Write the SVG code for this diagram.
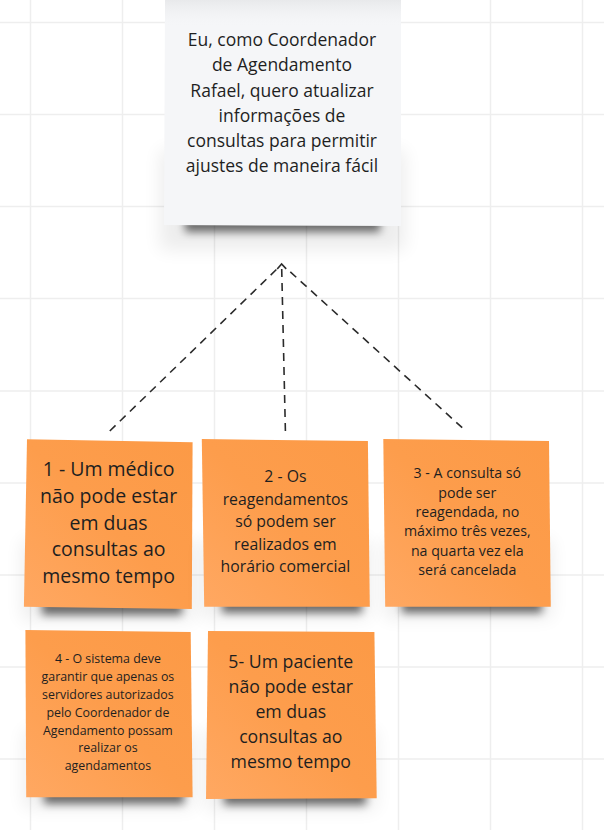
<svg xmlns="http://www.w3.org/2000/svg" width="604" height="830" viewBox="0 0 604 830">
<defs>
<style>
.grid line{stroke:#eeeeee;stroke-width:1.5}
.txt{font-family:"Open Sans","Noto Sans","DejaVu Sans",sans-serif;fill:#1f1f1f;text-anchor:middle}
.conn{stroke:#2b2b2b;stroke-width:1.6;stroke-dasharray:8 6;fill:none}
.shadow{fill:#000;opacity:0.55;filter:url(#blur)}
.glow{fill:#000;opacity:0.07;filter:url(#blur2)}
.orange{fill:url(#og)}
</style>
<linearGradient id="og" x1="1" y1="0" x2="0" y2="1">
<stop offset="0" stop-color="#fc9a46"/>
<stop offset="0.5" stop-color="#fd9d4c"/>
<stop offset="1" stop-color="#ffa862"/>
</linearGradient>
<linearGradient id="topfade" x1="0" y1="0" x2="0" y2="1">
<stop offset="0" stop-color="#e8e9eb"/>
<stop offset="1" stop-color="#f5f6f8" stop-opacity="0"/>
</linearGradient>
<filter id="blur" x="-30%" y="-100%" width="160%" height="300%">
<feGaussianBlur stdDeviation="4.5"/>
</filter>
<filter id="blur2" x="-30%" y="-50%" width="160%" height="200%">
<feGaussianBlur stdDeviation="9"/>
</filter>
<marker id="arr" viewBox="-6 -6 12 12" markerWidth="12" markerHeight="12" refX="0" refY="0" orient="auto" markerUnits="userSpaceOnUse">
<path d="M -5 -4.5 L 0 0 L -5 4.5" fill="none" stroke="#2b2b2b" stroke-width="1.6"/>
</marker>
</defs>
<rect width="604" height="830" fill="#ffffff"/>
<g class="grid">
<line x1="30.5" y1="0" x2="30.5" y2="830"/>
<line x1="122.5" y1="0" x2="122.5" y2="830"/>
<line x1="214.5" y1="0" x2="214.5" y2="830"/>
<line x1="306.5" y1="0" x2="306.5" y2="830"/>
<line x1="398.5" y1="0" x2="398.5" y2="830"/>
<line x1="490.5" y1="0" x2="490.5" y2="830"/>
<line x1="582.5" y1="0" x2="582.5" y2="830"/>
<line x1="0" y1="22.5" x2="604" y2="22.5"/>
<line x1="0" y1="114.5" x2="604" y2="114.5"/>
<line x1="0" y1="206.5" x2="604" y2="206.5"/>
<line x1="0" y1="298.5" x2="604" y2="298.5"/>
<line x1="0" y1="391" x2="604" y2="391"/>
<line x1="0" y1="483" x2="604" y2="483"/>
<line x1="0" y1="575" x2="604" y2="575"/>
<line x1="0" y1="667" x2="604" y2="667"/>
<line x1="0" y1="759" x2="604" y2="759"/>
</g>
<g id="story">
<rect class="glow" x="160" y="150" width="245" height="100"/>
<rect class="shadow" x="185" y="214" width="195" height="18"/>
<polygon points="165,0 401,0 401,226 164,225" fill="#f5f6f8"/>
<rect x="165" y="0" width="236" height="28" fill="url(#topfade)"/>
<text class="txt" font-size="17.5"><tspan x="282" y="46.3">Eu, como Coordenador</tspan><tspan x="282" y="71.4">de Agendamento</tspan><tspan x="282" y="96.5">Rafael, quero atualizar</tspan><tspan x="282" y="121.6">informações de</tspan><tspan x="282" y="146.7">consultas para permitir</tspan><tspan x="282" y="171.8">ajustes de maneira fácil</tspan></text>
</g>
<g id="connectors">
<line class="conn" x1="109.8" y1="431" x2="278" y2="268"/>
<line class="conn" x1="285.4" y1="431" x2="281.6" y2="264" marker-end="url(#arr)"/>
<line class="conn" x1="462.2" y1="427.7" x2="286" y2="268"/>
</g>
<g id="rule1">
<rect class="glow" x="22" y="540" width="172" height="80"/>
<rect class="shadow" x="42" y="598" width="140" height="17"/>
<polygon class="orange" points="27,439.3 192.6,442.3 191.8,609 23.9,606.7"/>
<text class="txt" font-size="19.5"><tspan x="108.6" y="476.3">1 - Um médico</tspan><tspan x="108.6" y="502.9">não pode estar</tspan><tspan x="108.6" y="529.5">em duas</tspan><tspan x="108.6" y="556.1">consultas ao</tspan><tspan x="108.6" y="582.7">mesmo tempo</tspan></text>
</g>
<g id="rule2">
<rect class="glow" x="202" y="540" width="168" height="78"/>
<rect class="shadow" x="222" y="596" width="140" height="17"/>
<polygon class="orange" points="201.8,439 367.9,441 369.8,606.7 204.2,606.7"/>
<text class="txt" font-size="15.8"><tspan x="285.4" y="482.4">2 - Os</tspan><tspan x="285.4" y="504.9">reagendamentos</tspan><tspan x="285.4" y="527.4">só podem ser</tspan><tspan x="285.4" y="549.9">realizados em</tspan><tspan x="285.4" y="572.4">horário comercial</tspan></text>
</g>
<g id="rule3">
<rect class="glow" x="384" y="540" width="168" height="78"/>
<rect class="shadow" x="402" y="596" width="140" height="17"/>
<polygon class="orange" points="383.3,439 549,441 550.8,606.7 385.2,606.7"/>
<text class="txt" font-size="14.2"><tspan x="467.3" y="478.4">3 - A consulta só</tspan><tspan x="467.3" y="497.75">pode ser</tspan><tspan x="467.3" y="517.1">reagendada, no</tspan><tspan x="467.3" y="536.45">máximo três vezes,</tspan><tspan x="467.3" y="555.8">na quarta vez ela</tspan><tspan x="467.3" y="575.15">será cancelada</tspan></text>
</g>
<g id="rule4">
<rect class="glow" x="24" y="730" width="170" height="78"/>
<rect class="shadow" x="44" y="787" width="140" height="17"/>
<polygon class="orange" points="25.4,630 190.7,632 192.6,797.3 26.2,797.3"/>
<text class="txt" font-size="12.4"><tspan x="107.9" y="663.2">4 - O sistema deve</tspan><tspan x="107.9" y="681">garantir que apenas os</tspan><tspan x="107.9" y="698.9">servidores autorizados</tspan><tspan x="107.9" y="716.7">pelo Coordenador de</tspan><tspan x="107.9" y="734.5">Agendamento possam</tspan><tspan x="107.9" y="752.4">realizar os</tspan><tspan x="107.9" y="770.2">agendamentos</tspan></text>
</g>
<g id="rule5">
<rect class="glow" x="206" y="730" width="170" height="80"/>
<rect class="shadow" x="224" y="788" width="142" height="17"/>
<polygon class="orange" points="208,631 374.4,632 376.7,798.3 206,799"/>
<text class="txt" font-size="17.7"><tspan x="290.8" y="668.1">5- Um paciente</tspan><tspan x="290.8" y="693.1">não pode estar</tspan><tspan x="290.8" y="718.1">em duas</tspan><tspan x="290.8" y="743.1">consultas ao</tspan><tspan x="290.8" y="768.1">mesmo tempo</tspan></text>
</g>
</svg>
